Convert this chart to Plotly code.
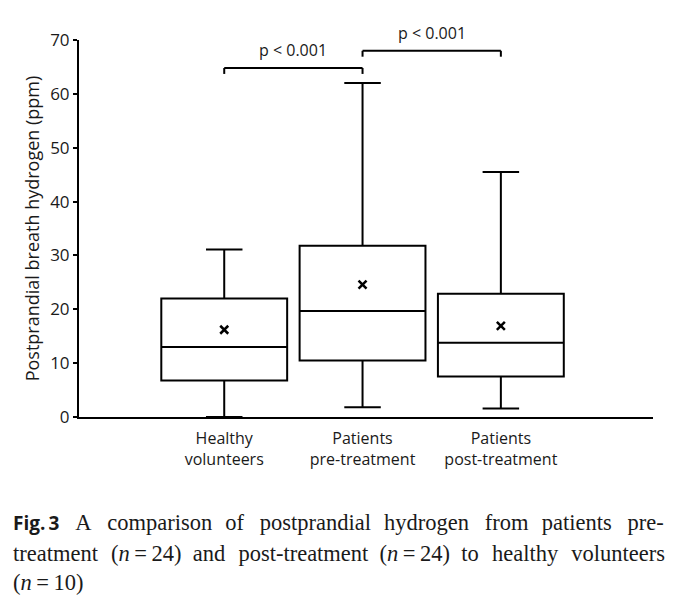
import plotly.graph_objects as go

# data
groups = ["Healthy<br>volunteers", "Patients<br>pre-treatment", "Patients<br>post-treatment"]
positions = [0, 1, 2]
q1 = [6.8, 10.5, 7.5]
median = [13.0, 19.7, 13.8]
q3 = [22.0, 31.8, 22.9]
lower = [0.0, 1.8, 1.6]
upper = [31.1, 62.0, 45.5]
means = [16.2, 24.6, 16.9]

# significance brackets: (from, to, height)
brackets = [(0, 1, 64.8), (1, 2, 68.0)]
bracket_text = ["p < 0.001", "p < 0.001"]

# caption words per line (text is justified in the original, so gaps are widened)
N = "(<i>n</i>\u2009=\u200924)"
caption_words = [
    ["A", "comparison", "of", "postprandial", "hydrogen", "from", "patients", "pre-"],
    ["treatment", N, "and", "post-treatment", N, "to", "healthy", "volunteers"],
    ["(<i>n</i>\u2009=\u200910)"],
]
W = "\u2002\u2009"   # wide gap
M = "\u2002\u200a"   # medium gap
S = "\u2002"         # narrow gap
caption_gaps = [
    [W, M, W, M, W, M, W],
    [M, S, M, S, S, M, M],
    [],
]

fig = go.Figure()

fig.add_trace(go.Box(
    x=positions,
    q1=q1,
    median=median,
    q3=q3,
    lowerfence=lower,
    upperfence=upper,
    width=0.91,
    whiskerwidth=0.29,
    fillcolor="white",
    line=dict(color="black", width=2),
    boxpoints=False,
    showlegend=False,
))

fig.add_trace(go.Scatter(
    x=positions,
    y=means,
    mode="markers",
    marker=dict(symbol="x-thin", size=8, line=dict(color="black", width=2.5)),
    showlegend=False,
))

for (a, b, h), txt in zip(brackets, bracket_text):
    fig.add_shape(type="line", x0=a, x1=b, y0=h, y1=h, line=dict(color="black", width=2))
    fig.add_shape(type="line", x0=a, x1=a, y0=h, y1=h - 1.1, line=dict(color="black", width=2))
    fig.add_shape(type="line", x0=b, x1=b, y0=h, y1=h - 1.1, line=dict(color="black", width=2))
    fig.add_annotation(x=(a + b) / 2, y=h, text=txt, showarrow=False, yanchor="bottom",
                       yshift=5, font=dict(size=16, color="#1a1a1a"))

caption_y = [-0.281, -0.361, -0.438]
for i, words in enumerate(caption_words):
    line = words[0]
    for gap, w in zip(caption_gaps[i], words[1:]):
        line += gap + w
    if i == 0:
        line = "<span style='font-family:Open Sans;font-size:19px'><b>Fig.\u20093</b></span>\u2002\u2009" + line
    fig.add_annotation(xref="paper", yref="paper", x=-0.1185, y=caption_y[i],
                       xanchor="left", yanchor="middle", showarrow=False, text=line,
                       font=dict(family="Liberation Serif", size=22.5, color="#1a1a1a"))

fig.update_layout(
    width=680,
    height=608,
    margin=dict(l=71, r=35, t=32, b=199),
    plot_bgcolor="white",
    paper_bgcolor="white",
    font=dict(family="Open Sans", color="#1a1a1a"),
)
fig.update_xaxes(
    range=[-1.05, 3.1],
    tickvals=positions,
    ticktext=groups,
    showline=True,
    linecolor="black",
    linewidth=2,
    showgrid=False,
    zeroline=False,
    ticks="",
    ticklabelstandoff=6,
    tickfont=dict(size=16),
)
fig.update_yaxes(
    range=[0, 70],
    dtick=10,
    showline=True,
    linecolor="black",
    linewidth=2,
    ticks="outside",
    ticklen=4,
    tickwidth=2,
    tickcolor="black",
    showgrid=False,
    zeroline=False,
    tickfont=dict(size=17),
    title=dict(text="Postprandial breath hydrogen (ppm)", font=dict(size=18), standoff=6),
)

fig.write_html("out.html")
